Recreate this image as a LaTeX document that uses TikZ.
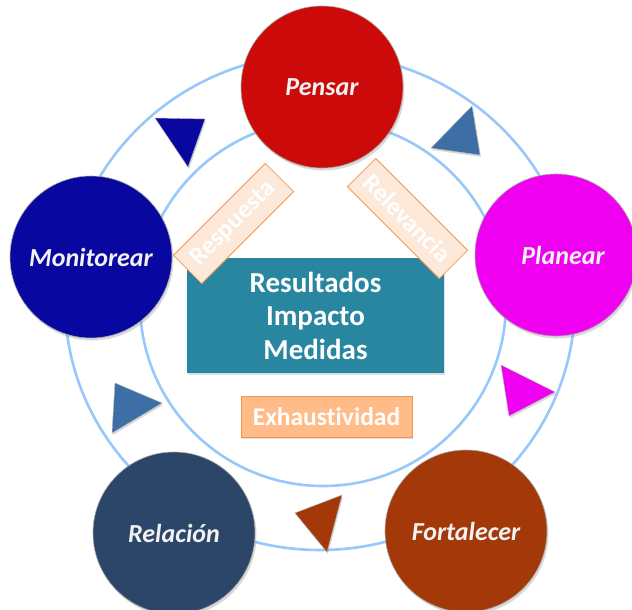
\documentclass[tikz,border=0pt]{standalone}
\usepackage{fontspec}
\setmainfont{Carlito}[Ligatures={NoCommon}]
\usetikzlibrary{shadows}
\definecolor{ring}{RGB}{150,200,250}
\definecolor{pensarc}{RGB}{204,10,10}
\definecolor{planearc}{RGB}{240,0,240}
\definecolor{fortc}{RGB}{163,56,8}
\definecolor{relc}{RGB}{43,70,104}
\definecolor{monic}{RGB}{8,8,160}
\definecolor{steelc}{RGB}{62,110,166}
\definecolor{tealc}{RGB}{40,134,160}
\definecolor{peach}{RGB}{253,233,217}
\definecolor{orangeb}{RGB}{245,150,80}
\definecolor{exhc}{RGB}{255,187,136}
\definecolor{txtc}{RGB}{242,242,242}
\tikzset{
  ringline/.style={draw=ring, line width=2.6pt},
  bub/.style={circle, minimum size=162pt, inner sep=0pt, text=txtc,
    font=\fontsize{26}{31}\selectfont\bfseries\itshape,
    draw=black!35, line width=0.6pt,
    drop shadow={opacity=0.3, shadow xshift=1.5pt, shadow yshift=-2.5pt}},
  tag/.style={draw=orangeb, line width=0.8pt, fill=peach, text=white,
    minimum width=130pt, minimum height=40pt, inner sep=0pt,
    font=\fontsize{25.5}{30}\selectfont\bfseries},
  tri/.style={draw=black!30, line width=0.4pt,
    drop shadow={opacity=0.3, shadow xshift=1pt, shadow yshift=-2pt}}
}
\begin{document}
\begin{tikzpicture}[x=1pt,y=-1pt]
\useasboundingbox (0,0) rectangle (632,610);
% rings
\draw[ringline] (320,302) ellipse [x radius=255pt, y radius=248pt];
\draw[ringline] (323,303) circle [radius=183pt];
% central box
\node[fill=tealc, minimum width=257pt, minimum height=115pt, inner sep=0pt,
  text=white, align=center, font=\fontsize{29}{33.5}\selectfont\bfseries,
  drop shadow={opacity=0.25, shadow xshift=1pt, shadow yshift=-2pt}]
  (res) at (315.5,315.5) {Resultados\\Impacto\\Medidas};
\node[fill=exhc, draw=orangeb, line width=0.8pt, minimum width=171pt, minimum height=41pt,
  inner sep=0pt, text=white, font=\fontsize{25.5}{30}\selectfont\bfseries,
  drop shadow={opacity=0.25, shadow xshift=1pt, shadow yshift=-2pt}]
  (exh) at (326.5,416.5) {Exhaustividad};
% rotated tags
\node[tag, rotate=45] (resp) at (233.5,223.5) {Respuesta};
\node[tag, rotate=-45] (relev) at (407.5,218.5) {Relevancia};
% circles
\node[bub, fill=pensarc] (pensar) at (322,87) {Pensar};
\node[bub, fill=planearc] (planear) at (556,255) {\hspace*{14pt}Planear};
\node[bub, fill=fortc] (fort) at (466,531) {Fortalecer};
\node[bub, fill=relc] (rel) at (174,533) {Relación};
\node[bub, fill=monic] (moni) at (91,257) {Monitorear};
% triangles
\fill[tri, fill=monic] (155,118) -- (205,119) -- (188,167) -- cycle;
\fill[tri, fill=steelc] (472,106) -- (480,155) -- (431,148) -- cycle;
\fill[tri, fill=planearc] (501,365) -- (555,392) -- (509,416) -- cycle;
\fill[tri, fill=fortc] (295,513) -- (342,495) -- (327,552) -- cycle;
\fill[tri, fill=steelc] (115,383) -- (162,403) -- (112,433) -- cycle;
\end{tikzpicture}
\end{document}
